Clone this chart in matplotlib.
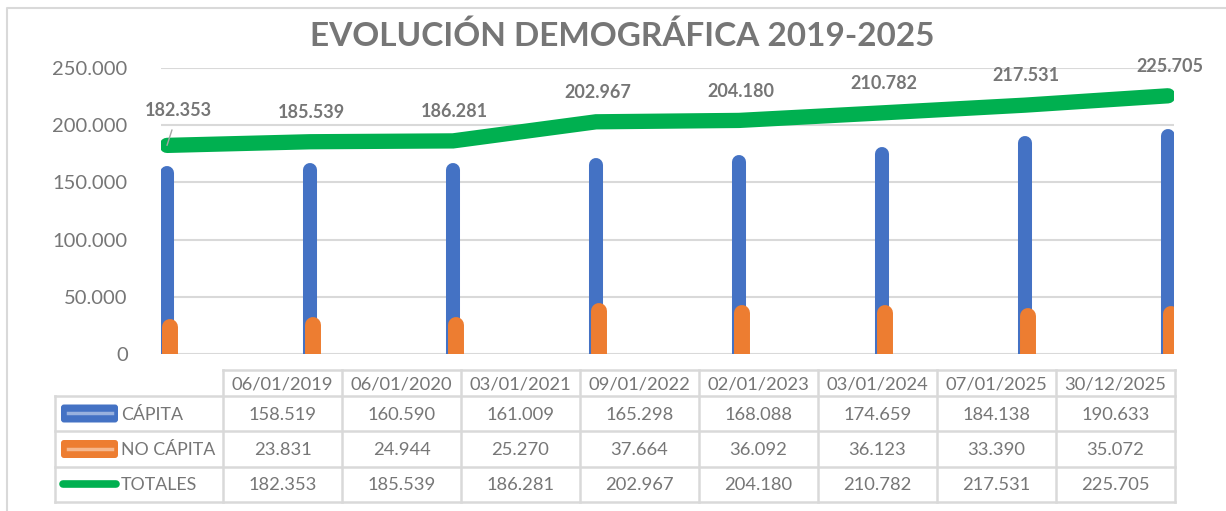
#!/usr/bin/env python3
"""
Evolución demográfica 2019-2025: bars (cápita / no cápita), line (totales)
and an Excel-style data table underneath.
"""
import matplotlib
matplotlib.use('Agg')
import matplotlib.pyplot as plt
from matplotlib.patches import FancyBboxPatch

fechas = ['06/01/2019', '06/01/2020', '03/01/2021', '09/01/2022',
          '02/01/2023', '03/01/2024', '07/01/2025', '30/12/2025']
capita = [158519, 160590, 161009, 165298, 168088, 174659, 184138, 190633]
no_capita = [23831, 24944, 25270, 37664, 36092, 36123, 33390, 35072]
totales = [182353, 185539, 186281, 202967, 204180, 210782, 217531, 225705]
series_names = ['CÁPITA', 'NO CÁPITA', 'TOTALES']
y_ticks = [0, 50000, 100000, 150000, 200000, 250000]

BLUE = '#4472C4'
ORANGE = '#ED7D31'
GREEN = '#00B050'
GREY_TXT = '#767676'
GRID = '#D9D9D9'
FONT = 'Lato'

W, H, DPI = 1226, 511, 100


def fmt(v):
    # spanish thousands separator
    return f'{v:,}'.replace(',', '.')


def main():
    plt.rcParams['font.family'] = [FONT, 'DejaVu Sans']
    fig = plt.figure(figsize=(W / DPI, H / DPI), dpi=DPI)

    # pixel-space overlay for frame, title and table
    over = fig.add_axes([0, 0, 1, 1])
    over.set_xlim(0, W)
    over.set_ylim(H, 0)
    over.axis('off')

    # chart area border (left + top)
    over.plot([7, 7, W + 5], [H + 5, 8, 8], color=GRID, lw=1.5)

    over.text(622, 36, 'EVOLUCIÓN DEMOGRÁFICA 2019-2025', ha='center',
              va='center', fontsize=24, fontweight='bold', color=GREY_TXT)

    # main plot area
    x0, x1, y0, y1 = 161, 1174, 68, 354
    ax = fig.add_axes([x0 / W, (H - y1) / H, (x1 - x0) / W, (y1 - y0) / H])
    ax.set_xlim(-0.042, 7.042)
    ax.set_ylim(0, 250000)
    for s in ax.spines.values():
        s.set_visible(False)
    ax.set_xticks([])
    ax.set_yticks(y_ticks)
    ax.set_yticklabels(['0'] + [fmt(v) for v in y_ticks[1:]])
    ax.tick_params(axis='y', length=0, pad=24, labelsize=14.5,
                   labelcolor=GREY_TXT)
    ax.grid(axis='y', color=GRID, lw=1.5)
    ax.set_axisbelow(True)

    # bars drawn as round-capped strokes (cap sits above the value, as in Excel)
    xs = list(range(len(fechas)))
    for i in xs:
        ax.plot([i, i], [-20000, capita[i]], color=BLUE, lw=10.1,
                solid_capstyle='round', zorder=2)
        ax.plot([i + 0.018, i + 0.018], [-20000, no_capita[i]],
                color=ORANGE, lw=11.5, solid_capstyle='round', zorder=3)

    ax.plot(xs, totales, color=GREEN, lw=11, solid_capstyle='round',
            solid_joinstyle='miter', zorder=4)

    for i in xs:
        if i == 0:
            ax.annotate(fmt(totales[i]), (i, totales[i]), xytext=(8, 25),
                        textcoords='offset points', ha='center', va='center',
                        fontsize=13, fontweight='bold', color=GREY_TXT,
                        arrowprops=dict(arrowstyle='-', color='#A6A6A6',
                                        lw=1, shrinkA=6, shrinkB=0),
                        zorder=5)
        else:
            ax.annotate(fmt(totales[i]), (i, totales[i]), xytext=(1, 21),
                        textcoords='offset points', ha='center', va='center',
                        fontsize=13, fontweight='bold', color=GREY_TXT,
                        zorder=5)

    # ---- data table ----
    lab_l, col0, col_w = 55, 223, 119
    n = len(fechas)
    right = col0 + n * col_w
    rows = [370, 396, 431, 467, 502]
    lw = 1.8
    # horizontal lines
    over.plot([col0, right], [rows[0], rows[0]], color=GRID, lw=lw)
    for yy in rows[1:]:
        over.plot([lab_l, right], [yy, yy], color=GRID, lw=lw)
    # vertical lines
    over.plot([lab_l, lab_l], [rows[1], rows[-1]], color=GRID, lw=lw)
    for k in range(n + 1):
        xx = col0 + k * col_w
        over.plot([xx, xx], [rows[0], rows[-1]], color=GRID, lw=lw)

    tfs = 13.2
    for k, f in enumerate(fechas):
        over.text(col0 + (k + 0.5) * col_w, (rows[0] + rows[1]) / 2 + 1, f,
                  ha='center', va='center', fontsize=tfs, color=GREY_TXT)
    for r, vals in enumerate([capita, no_capita, totales]):
        yc = (rows[r + 1] + rows[r + 2]) / 2 + 1
        for k, v in enumerate(vals):
            over.text(col0 + (k + 0.5) * col_w, yc, fmt(v), ha='center',
                      va='center', fontsize=tfs, color=GREY_TXT)
        over.text(121, yc, series_names[r], ha='left', va='center',
                  fontsize=tfs - 0.4, color=GREY_TXT)

    # legend keys
    for r, c in enumerate([BLUE, ORANGE]):
        yc = (rows[r + 1] + rows[r + 2]) / 2
        over.add_patch(FancyBboxPatch((62, yc - 8), 55, 16,
                                      boxstyle='round,pad=1,rounding_size=3',
                                      fc=c, ec=c, lw=0))
        over.plot([68, 112], [yc, yc], color='white', alpha=0.45, lw=2.5)
    yc = (rows[3] + rows[4]) / 2
    over.plot([63, 116], [yc, yc], color=GREEN, lw=5.5,
              solid_capstyle='round')

    fig.savefig('out.png', dpi=DPI)
    print('Wrote out.png')


if __name__ == '__main__':
    main()
